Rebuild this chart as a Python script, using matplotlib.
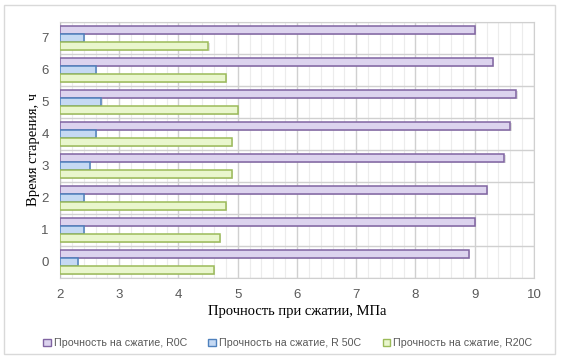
import numpy as np
import matplotlib.pyplot as plt
from matplotlib.patches import Patch, Rectangle
import matplotlib.patheffects as pe

hours = [0, 1, 2, 3, 4, 5, 6, 7]
r0c = [8.9, 9.0, 9.2, 9.5, 9.6, 9.7, 9.3, 9.0]
r50c = [2.3, 2.4, 2.4, 2.5, 2.6, 2.7, 2.6, 2.4]
r20c = [4.6, 4.7, 4.8, 4.9, 4.9, 5.0, 4.8, 4.5]
labels = ['Прочность на сжатие, R0C', 'Прочность на сжатие, R 50C', 'Прочность на сжатие, R20C']

fills = ['#dcd3ee', '#c5d9f3', '#e9f6cd']
edges = ['#8064a2', '#4f81bd', '#9bbb59']

fig = plt.figure(figsize=(5.61, 3.6), dpi=100)
fig.patches.append(Rectangle((4 / 561, 1 - 354 / 360), 551 / 561, 349 / 360,
                             transform=fig.transFigure, fill=False,
                             edgecolor='#d9d9d9', lw=1))
ax = fig.add_axes([60 / 561, 1 - 278 / 360, 474 / 561, 256 / 360])

y = np.arange(len(hours))
h = 0.25
shadow = [pe.SimplePatchShadow(offset=(1, -1), shadow_rgbFace='#aaaaaa', alpha=0.35), pe.Normal()]
for vals, off, fc, ec in zip([r0c, r50c, r20c], [h, 0, -h], fills, edges):
    bars = ax.barh(y + off, np.array(vals) - 2, left=2, height=h,
                   color=fc, edgecolor=ec, lw=1.1, zorder=3)
    for b in bars:
        b.set_path_effects(shadow)

ax.set_xlim(2, 10)
ax.set_ylim(-0.5, 7.5)
ax.set_xticks(range(2, 11))
ax.set_xticks(np.arange(2, 10.01, 0.2), minor=True)
ax.set_yticks(y)
ax.set_yticklabels([str(v) for v in hours])
ax.set_yticks(np.arange(-0.5, 7.6, 1), minor=True)
ax.grid(True, which='major', axis='x', color='#d0d0d0', lw=1, zorder=0)
ax.grid(True, which='minor', axis='x', color='#ececec', lw=0.8, zorder=0)
ax.grid(True, which='minor', axis='y', color='#d0d0d0', lw=1, zorder=0)
ax.tick_params(which='both', length=0)
ax.tick_params(axis='x', pad=8, labelsize=9.5, labelcolor='#595959')
ax.tick_params(axis='y', pad=8, labelsize=9.5, labelcolor='#595959')
for lbl in ax.get_xticklabels() + ax.get_yticklabels():
    lbl.set_family('Liberation Sans')
for s in ['top', 'right']:
    ax.spines[s].set_color('#d0d0d0')
ax.spines['bottom'].set_color('#d0d0d0')
ax.spines['left'].set_color('#bfbfbf')

ax.set_xlabel('Прочность при сжатии, МПа', family='Liberation Serif', fontsize=10.5, labelpad=3)
ax.set_ylabel('Время старения, ч', family='Liberation Serif', fontsize=10.5, labelpad=1)

handles = [Patch(facecolor=fc, edgecolor=ec, lw=1) for fc, ec in zip(fills, edges)]
fig.legend(handles, labels, loc='center', bbox_to_anchor=(0.513, 1 - 343 / 360), ncol=3,
           frameon=False, prop={'family': 'Liberation Sans', 'size': 7.7},
           handlelength=0.7, handleheight=0.7,
           handletextpad=0.3, columnspacing=2.0, labelcolor='#595959')

fig.savefig('out.png', dpi=100)
